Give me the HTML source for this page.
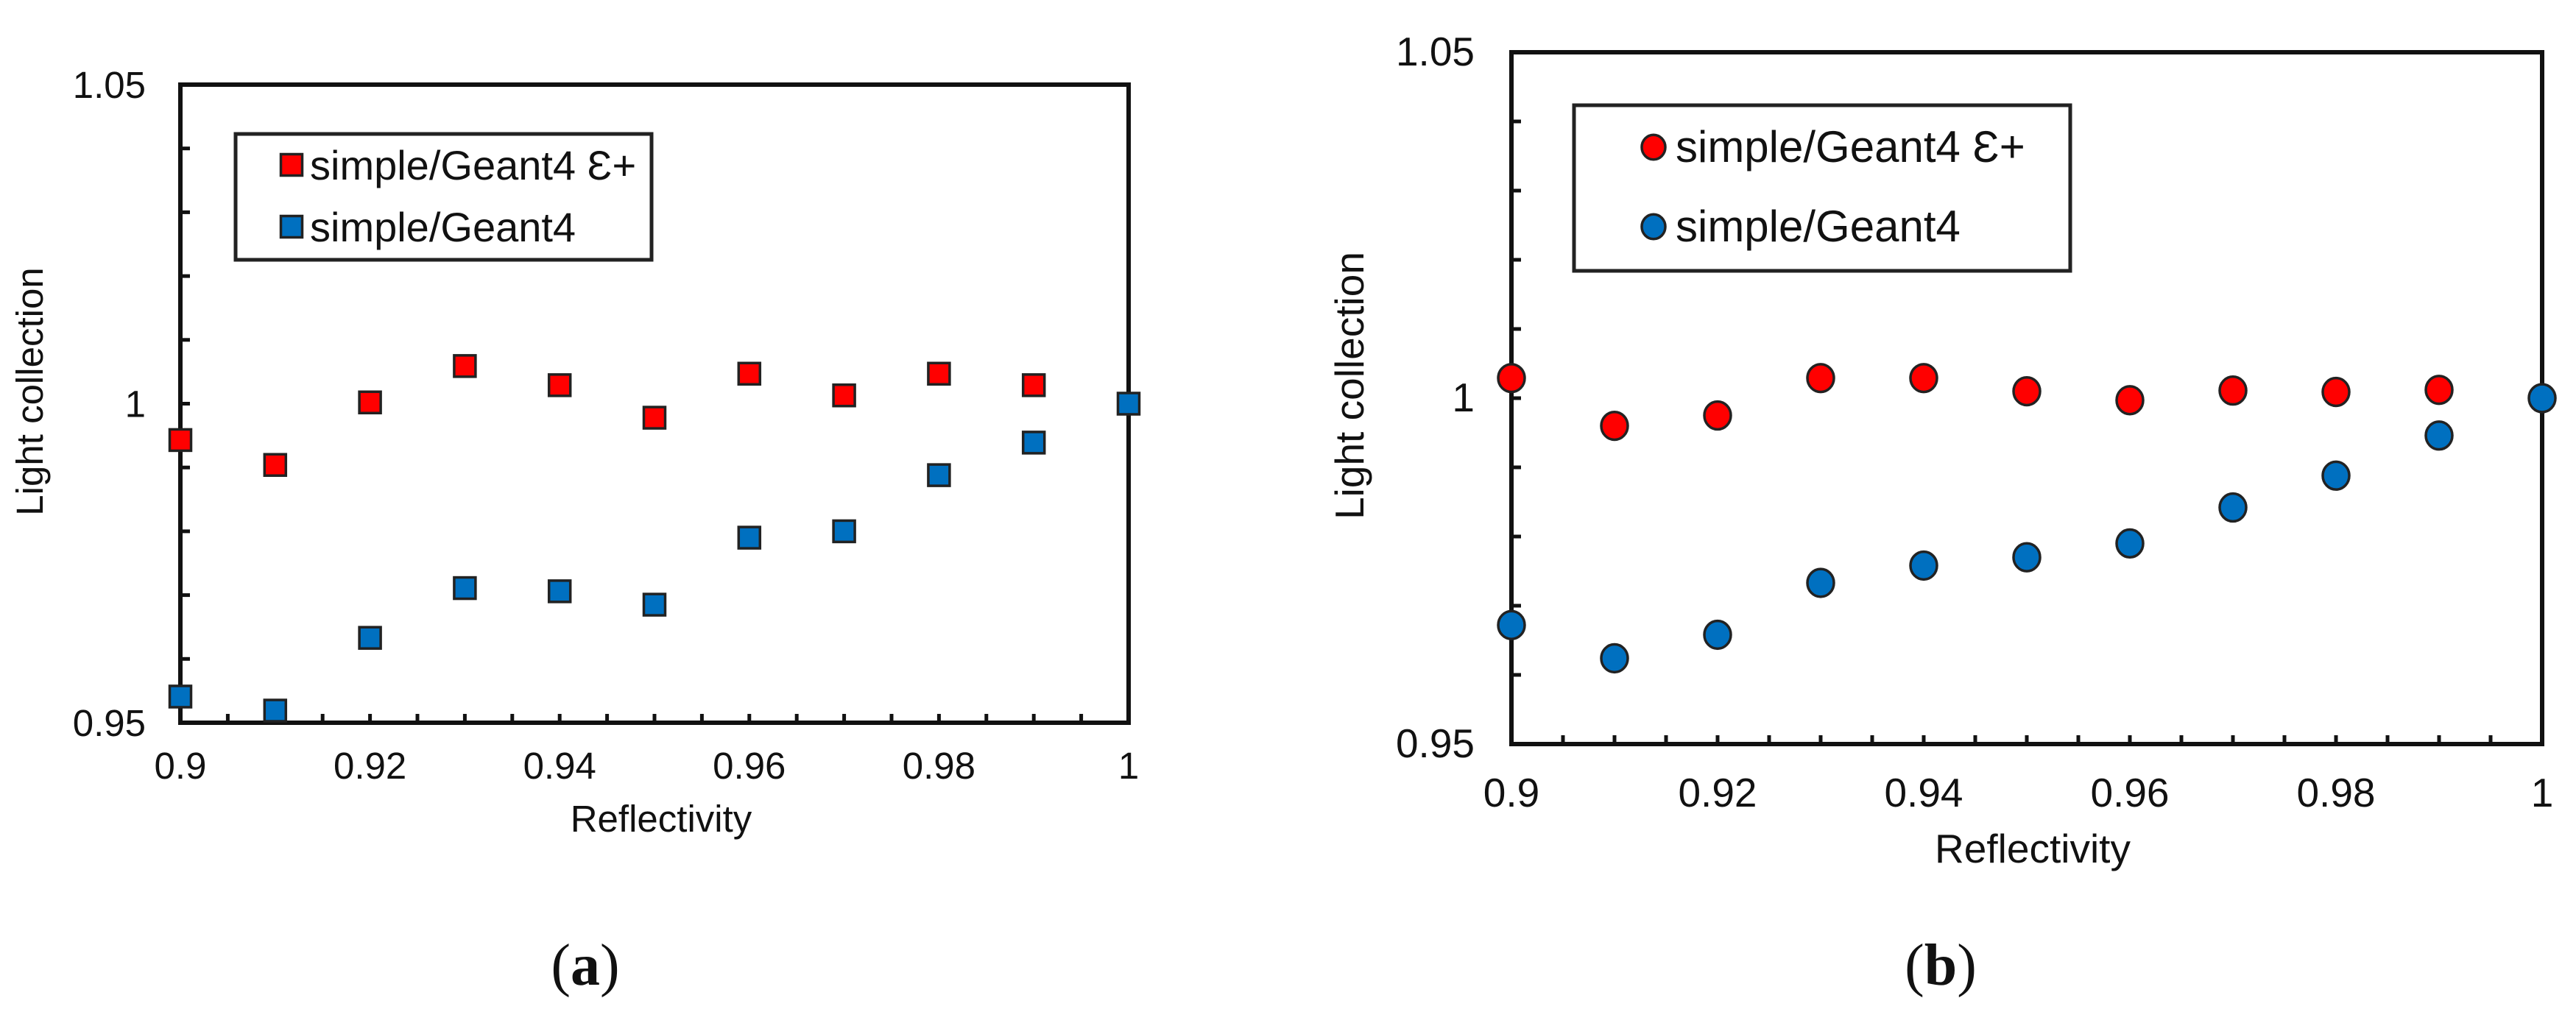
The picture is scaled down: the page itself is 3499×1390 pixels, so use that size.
<!DOCTYPE html>
<html><head><meta charset="utf-8"><style>
html,body{margin:0;padding:0;background:#fff;}
svg{display:block;}
text{font-family:"Liberation Sans",Arial,sans-serif;fill:#111;}
</style></head><body>
<svg id="fig" width="3499" height="1390" viewBox="0 0 3499 1390" xmlns="http://www.w3.org/2000/svg">
<g id="pa"></g>
<g id="pb"></g>
</svg>
<script>
const xCats = [0.90,0.91,0.92,0.93,0.94,0.95,0.96,0.97,0.98,0.99,1.00];
const xTickLabels = ["0.9","0.92","0.94","0.96","0.98","1"];
const xTickValues = [0.90,0.92,0.94,0.96,0.98,1.00];
const yTickLabels = ["0.95","1","1.05"];
const yTickValues = [0.95,1.00,1.05];
const aEps = [0.9943,0.9904,1.0002,1.0059,1.0029,0.9978,1.0047,1.0013,1.0047,1.0029,null];
const aStd = [0.9541,0.9519,0.9633,0.9711,0.9706,0.9685,0.9790,0.9800,0.9888,0.9939,1.0000];
const bEps = [1.0029,0.9960,0.9975,1.0029,1.0029,1.0010,0.9997,1.0011,1.0009,1.0012,null];
const bStd = [0.9672,0.9624,0.9658,0.9733,0.9758,0.9770,0.9790,0.9842,0.9888,0.9946,1.0000];
const legendLabels = ["simple/Geant4 \u0190+","simple/Geant4"];

const NS="http://www.w3.org/2000/svg";
function mk(parent,tag,attrs,txt){const e=document.createElementNS(NS,tag);for(const k in attrs)e.setAttribute(k,attrs[k]);if(txt!==undefined)e.textContent=txt;parent.appendChild(e);return e;}

function panel(g,cfg,eps,std,shape){
  const L=cfg.L,R=cfg.R,T=cfg.T,B=cfg.B;
  const sx=v=>L+(v-0.9)/0.1*(R-L);
  const sy=v=>B-(v-0.95)/0.1*(B-T);
  // minor ticks
  for(let i=1;i<10;i++){const y=sy(0.95+i*0.01);
    const t=mk(g,'line',{x1:L,x2:L+13,y1:y,y2:y,stroke:'#111','stroke-width':5});
    
    }
  for(let i=1;i<20;i++){const x=sx(0.9+i*0.005);
    const t=mk(g,'line',{x1:x,x2:x,y1:B,y2:B-12,stroke:'#111','stroke-width':5});
    
    }
  const fr=mk(g,'rect',{x:L,y:T,width:R-L,height:B-T,fill:'none',stroke:'#111','stroke-width':6});
  
  
  yTickLabels.forEach((s,i)=>{const t=mk(g,'text',{x:cfg.ylx,y:sy(yTickValues[i])+18,'text-anchor':'end','font-size':cfg.fs},s);
    
    });
  xTickLabels.forEach((s,i)=>{const t=mk(g,'text',{x:sx(xTickValues[i]),y:cfg.xlb,'text-anchor':'middle','font-size':cfg.fs},s);
    
    });
  const xt=mk(g,'text',{x:cfg.xtx,y:cfg.xty,'text-anchor':'middle','font-size':cfg.fs},'Reflectivity');
  
  
  const yt=mk(g,'text',{x:0,y:0,'text-anchor':'middle','font-size':cfg.fs,transform:`translate(${cfg.ytx},${cfg.yty}) rotate(-90)`},'Light collection');
  
  
  // legend
  const lg=mk(g,'g',{});
  
  
  mk(lg,'rect',{x:cfg.lgx,y:cfg.lgy,width:cfg.lgw,height:cfg.lgh,fill:'#fff',stroke:'#222','stroke-width':5});
  const cols=['#ff0000','#0070c0'];
  [0,1].forEach(i=>{
    const cy=cfg.lgy+cfg.lrow[i];
    drawMark(lg,shape,cfg.lmx,cy,cols[i],cfg.lms);
    const t=mk(lg,'text',{x:cfg.ltx,y:cy+20,'font-size':cfg.lfs},legendLabels[i]);
    
    
  });
  // series
  [[std,cols[1],'std'],[eps,cols[0],'eps']].forEach(([arr,c,n])=>{
    arr.forEach((v,i)=>{ if(v===null) return;
      const m=drawMark(g,shape,sx(xCats[i]),sy(v),c,cfg.ms);
      
      
    });
  });
}
function drawMark(g,shape,x,y,c,s){
  if(shape==='sq') return mk(g,'rect',{x:x-s/2,y:y-s/2,width:s,height:s,fill:c,stroke:'#222','stroke-width':3.5});
  return mk(g,'ellipse',{cx:x,cy:y,rx:s/2,ry:s/2*1.05,fill:c,stroke:'#222','stroke-width':3.5});
}
panel(document.getElementById('pa'),{L:245,R:1533,T:115,B:982,fs:51,ylx:198,xlb:1058,xtx:898,xty:1130,ytx:58,yty:532,
  lgx:320,lgy:182,lgw:565,lgh:171,lrow:[42,126],lmx:396,lms:29,ltx:421,lfs:56,ms:29},aEps,aStd,'sq');
panel(document.getElementById('pb'),{L:2053,R:3453,T:71,B:1011,fs:55,ylx:2003,xlb:1096,xtx:2761,xty:1172,ytx:1852,yty:524,
  lgx:2138,lgy:143,lgw:674,lgh:225,lrow:[57,165],lmx:2246,lms:32,ltx:2276,lfs:60,ms:36},bEps,bStd,'ci');
const svg=document.getElementById('fig');
[['(a)',795,'caption-a'],['(b)',2636,'caption-b']].forEach(([s,x,n])=>{
  const t=mk(svg,'text',{x:x,y:1338,'text-anchor':'middle','font-size':80,style:'font-family:"Liberation Serif",serif'});
  mk(t,'tspan',{},'(');mk(t,'tspan',{'font-weight':'bold'},s[1]);mk(t,'tspan',{},')');
  
  
});
</script>
</body></html>
